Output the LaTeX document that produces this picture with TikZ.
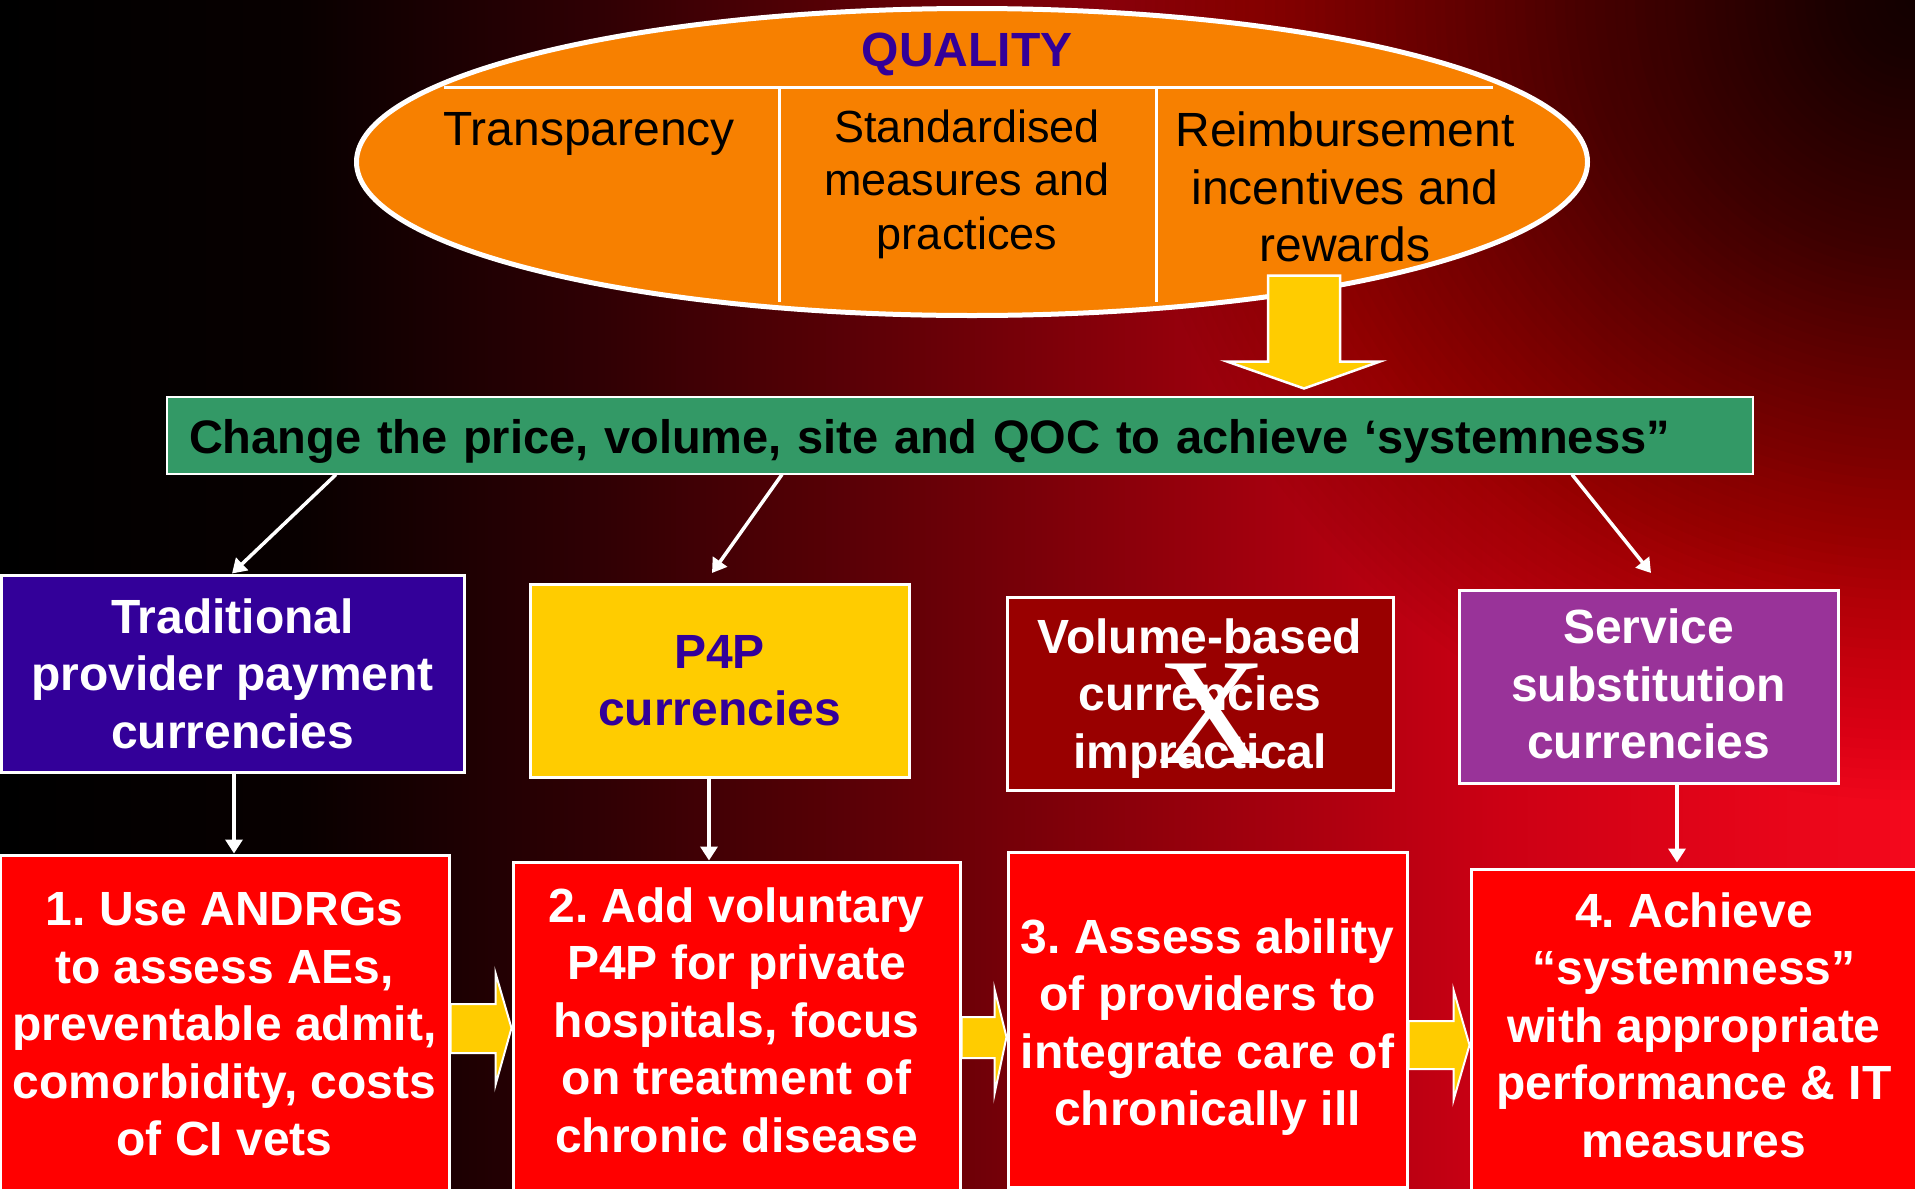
\documentclass[tikz,border=0pt]{standalone}
\usepackage{fontspec}
\setmainfont{Liberation Sans}
\newfontfamily\serifX{Liberation Serif}
\usetikzlibrary{shapes.geometric,arrows.meta}
\frenchspacing

\definecolor{qorange}{RGB}{247,128,0}
\definecolor{qindigo}{RGB}{51,0,153}
\definecolor{qyellow}{RGB}{255,204,0}
\definecolor{qgreen}{RGB}{51,153,102}
\definecolor{qpurple}{RGB}{153,51,153}
\definecolor{qdarkred}{RGB}{153,0,0}
\definecolor{qred}{RGB}{255,0,0}
\definecolor{bgA}{RGB}{8,0,0}
\definecolor{bgB}{RGB}{48,0,4}
\definecolor{bgC}{RGB}{98,0,6}
\definecolor{bgD}{RGB}{152,0,12}
\definecolor{bgE}{RGB}{204,0,20}
\definecolor{bgF}{RGB}{245,8,28}

\pgfdeclarehorizontalshading{slidebg}{100bp}{color(0bp)=(black); color(25bp)=(black); color(32.8bp)=(bgA); color(40.7bp)=(bgB); color(48.5bp)=(bgC); color(56.3bp)=(bgD); color(64.2bp)=(bgE); color(75bp)=(bgF); color(100bp)=(bgF)}

\tikzstyle{colhead} = [align=center, text=black, font=\fontsize{48}{57.5}\selectfont]
\tikzstyle{catbox} = [rectangle, draw=white, line width=3pt, inner sep=0pt, align=center, text=white, font=\bfseries\fontsize{48}{57.5}\selectfont]
\tikzstyle{stepbox} = [catbox, fill=qred]
\tikzstyle{link} = [white, line width=3.5pt, -{Triangle[length=14pt,width=17pt]}]
\tikzstyle{flow} = [fill=qyellow, draw=white, line width=2pt]

\begin{document}
\begin{tikzpicture}[x=1pt, y=-1pt]

\useasboundingbox (0,0) rectangle (1915,1189);
\clip (0,0) rectangle (1915,1189);

% slide background: dark on the left, red on the right, darker top right corner
\shade [shading=slidebg] (0,0) rectangle (1915,1189);
\foreach \r in {800,790,...,10} {
  \pgfmathsetmacro\shadeop{\r>650 ? 0.01 : 0.016+0.024*(1-\r/650)}
  \fill [black, fill opacity=\shadeop] (1915,0) circle (\r);
}

\node (quality) [ellipse, draw=white, line width=5pt, fill=qorange, inner sep=0pt, minimum width=1231pt, minimum height=307pt] at (972,162) {};
\draw [white, line width=3pt] (444,87) -- (1493,87);
\draw [white, line width=3pt] (779,89) -- (779,302);
\draw [white, line width=3pt] (1156,89) -- (1156,302);

\node (qtitle) [text=qindigo, font=\bfseries\fontsize{48}{57.5}\selectfont] at (967,54) {QUALITY};
\node (transp) [colhead] at (589,134) {Transparency};
\node (stdmeas) [colhead, font=\fontsize{45}{53.5}\selectfont] at (967,184) {Standardised\\measures and\\practices};
\node (reward) [colhead] at (1345,187) {Reimbursement\\incentives and\\rewards};

\node (change) [rectangle, draw=white, line width=2pt, fill=qgreen, text width=1542pt, inner xsep=22pt, inner ysep=0pt, minimum height=77pt, text height=37pt, text depth=0pt, align=left, font=\bfseries\fontsize{47}{56}\selectfont] at (960,435) {Change the price, volume, site and QOC to achieve ‘systemness”};

\path (change.north -| 1304,0) ++(0,-7) coordinate (droptip);
\draw [flow, line width=2.5pt] (droptip) -- ++(-77,-27) -- ++(41,0) -- ++(0,-86) -- ++(72,0) -- ++(0,86) -- ++(40,0) -- cycle;

\node (tradpay) [catbox, fill=qindigo, minimum width=463pt, minimum height=197pt] at (232.5,673.5) {Traditional\\provider payment\\currencies};
\node (ppp) [catbox, fill=qyellow, text=qindigo, minimum width=379pt, minimum height=193pt] at (719.5,680.5) {P4P\\currencies};
\node (volume) [catbox, fill=qdarkred, minimum width=386pt, minimum height=193pt, text depth=0pt] at (1200,693.5) {Volume-based\\currencies\\impractical};
\node (cross) [text=white, inner sep=0pt, font=\serifX\fontsize{152}{152}\selectfont] at (1212,714) {X};
\node (substitute) [catbox, fill=qpurple, minimum width=379pt, minimum height=193pt, text depth=5pt] at (1648.5,686.5) {Service\\substitution\\currencies};

\node (step1) [stepbox, minimum width=449pt, minimum height=338pt] at (224.5,1024) {1. Use ANDRGs\\to assess AEs,\\preventable admit,\\comorbidity, costs\\of CI vets};
\node (step2) [stepbox, minimum width=447pt, minimum height=330pt, text depth=14pt] at (736.5,1027) {2. Add voluntary\\P4P for private\\hospitals, focus\\on treatment of\\chronic disease};
\node (step3) [stepbox, minimum width=399pt, minimum height=335pt, text height=212pt, text depth=0pt] at (1207.5,1019.5) {3. Assess ability\\of providers to\\integrate care of\\chronically ill};
\node (step4) [stepbox, minimum width=446pt, minimum height=322pt, text depth=10pt] at (1694,1030) {4. Achieve\\“systemness”\\with appropriate\\performance \& IT\\measures};

\coordinate (ppptip) at (712,573);
\coordinate (substtip) at (1651,573);
\draw [link] (change.south -| 336,0) -- (tradpay.north -| 232,0);
\draw [link] (change.south -| 782,0) -- (ppptip);
\draw [link] (change.south -| 1572,0) -- (substtip);

\draw [link] (tradpay.south -| 234,0) -- (step1.north -| 234,0);
\draw [link] (ppp.south -| 709,0) -- (step2.north -| 709,0);
\draw [link, shorten >=5pt] (substitute.south -| 1677,0) -- (step4.north -| 1677,0);

\draw [flow] (step1.east |- 0,1004) -- ++(45,0) -- ++(0,-31) -- (step2.west |- 0,1028) -- ++(-16,57) -- ++(0,-32) -- (step1.east |- 0,1053) -- cycle;
\draw [flow] (step2.east |- 0,1017) -- ++(33,0) -- ++(0,-28) -- (step3.west |- 0,1037) -- ++(-12,57) -- ++(0,-36) -- (step2.east |- 0,1058) -- cycle;
\draw [flow] (step3.east |- 0,1021) -- ++(45,0) -- ++(0,-31) -- (step4.west |- 0,1045) -- ++(-16,55) -- ++(0,-31) -- (step3.east |- 0,1069) -- cycle;

\end{tikzpicture}
\end{document}
